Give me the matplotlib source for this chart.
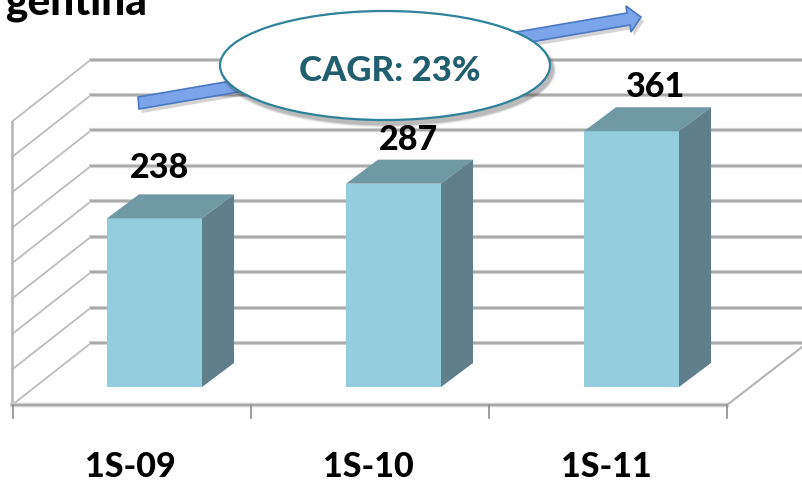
import matplotlib
matplotlib.use("Agg")
import matplotlib.pyplot as plt
from matplotlib.patches import Ellipse, Polygon

# Data
periods = ["1S-09", "1S-10", "1S-11"]
sales = [238, 287, 361]
grid_values = [0, 50, 100, 150, 200, 250, 300, 350, 400]
cagr_text = "CAGR: 23%"

# Layout, in pixels of the 802x482 picture
PX_PER_UNIT = 0.7085
BAR_BASE = 387
BAR_LEFT = [107, 346, 584]
BAR_WIDTH = 95
BAR_DX, BAR_DY = 32, -24
WALL_BASE = 343
WALL_X = 91
DEPTH_X, DEPTH_Y = -79, 62
FLOOR_Y = 405
TICKS_X = [13, 251, 489, 727]
LABEL_GAP = [50, 44, 44]

GRID = "#b4b4b4"
FRONT = "#94cdde"
TOP = "#7099a6"
SIDE = "#5f7f8c"

plt.rcParams["font.family"] = ["Lato", "DejaVu Sans"]
plt.rcParams["font.weight"] = "black"

fig = plt.figure(figsize=(8.02, 4.82), dpi=100)
ax = fig.add_axes([0, 0, 1, 1])
ax.set_xlim(0, 802)
ax.set_ylim(482, 0)
ax.axis("off")

# cut off title from the slide
ax.text(5, 14, "gentina", fontsize=30.5, color="black", va="baseline", ha="left")

# walls and floor
for v in grid_values:
    y = WALL_BASE - v * PX_PER_UNIT
    ax.plot([WALL_X + DEPTH_X, WALL_X], [y + DEPTH_Y, y], color="#bcbcbc", lw=1.3, zorder=1)
    ax.plot([WALL_X, 802], [y, y], color="#d2d2d2", lw=3, zorder=1)
    ax.plot([WALL_X, 802], [y, y], color="#aaaaaa", lw=1.5, zorder=1)
top_y = WALL_BASE - grid_values[-1] * PX_PER_UNIT + DEPTH_Y
ax.plot([12, 12], [top_y, FLOOR_Y], color=GRID, lw=1.8, zorder=1)
ax.plot([12, 727], [FLOOR_Y, FLOOR_Y], color="#d2d2d2", lw=3.2, zorder=1)
ax.plot([12, 727], [FLOOR_Y, FLOOR_Y], color="#aaaaaa", lw=1.5, zorder=1)
ax.plot([727, 802], [FLOOR_Y, 347], color=GRID, lw=1.5, zorder=1)
for x in TICKS_X:
    ax.plot([x, x], [FLOOR_Y, 418], color="#8c8c8c", lw=1.2, zorder=1)

# bars
for i, v in enumerate(sales):
    x0 = BAR_LEFT[i]
    x1 = x0 + BAR_WIDTH
    y1 = BAR_BASE - v * PX_PER_UNIT
    ax.add_patch(Polygon([(x0, y1), (x1, y1), (x1, BAR_BASE), (x0, BAR_BASE)], fc=FRONT, ec="none", zorder=3))
    ax.add_patch(Polygon([(x0, y1), (x0 + BAR_DX, y1 + BAR_DY), (x1 + BAR_DX, y1 + BAR_DY), (x1, y1)],
                         fc=TOP, ec="none", zorder=3))
    ax.add_patch(Polygon([(x1, y1), (x1 + BAR_DX, y1 + BAR_DY), (x1 + BAR_DX, BAR_BASE + BAR_DY), (x1, BAR_BASE)],
                         fc=SIDE, ec="none", zorder=3))
    ax.text(x0 + BAR_WIDTH / 2 + [5, 15, 24][i], y1 - LABEL_GAP[i], str(v), fontsize=24.5, color="black",
            ha="center", va="center", zorder=6)
    ax.text((TICKS_X[i] + TICKS_X[i + 1]) / 2 - 2, 467, periods[i], fontsize=24.5, color="black",
            ha="center", va="center", zorder=6)

# growth arrow
arrow = [(138, 97), (627, 13), (626, 6), (641, 17), (631, 32), (630, 25), (139, 109)]
ax.add_patch(Polygon([(x + 3, y + 4) for x, y in arrow], fc="#555555", ec="none", alpha=0.25, zorder=4))
ax.add_patch(Polygon(arrow, fc="#7ba4ea", ec="#4a78c4", lw=1.2, zorder=4))

# CAGR bubble
for grow, alpha in [(6, 0.08), (4, 0.12), (2, 0.18)]:
    ax.add_patch(Ellipse((388, 70), 330 + grow, 109 + grow, fc="#333333", ec="none", alpha=alpha, zorder=5))
ax.add_patch(Ellipse((385, 65.5), 330, 109, fc="white", ec="#2f8299", lw=1.6, zorder=5))
ax.text(390, 71, cagr_text, fontsize=25, color="#215e70", ha="center", va="center", zorder=6)

fig.savefig("out.png", dpi=100)
